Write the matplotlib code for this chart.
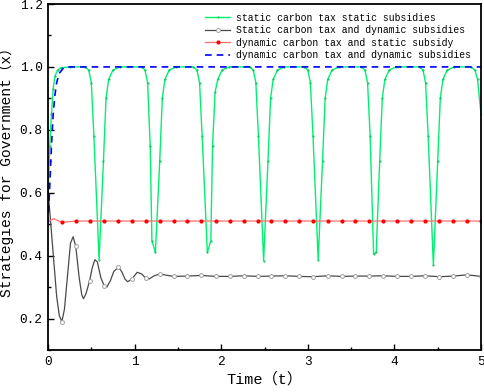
import matplotlib
matplotlib.use("Agg")
import matplotlib.pyplot as plt
from matplotlib.ticker import MultipleLocator

plt.rcParams['font.family'] = ['Liberation Mono', 'Noto Sans CJK SC', 'DejaVu Sans']

#marker times shared by the grey and red series
mark_t = [0.16, 0.32, 0.48, 0.65, 0.81, 0.97, 1.13, 1.29, 1.45, 1.61, 1.77, 1.94,
          2.10, 2.26, 2.42, 2.58, 2.74, 2.90, 3.06, 3.23, 3.39, 3.55, 3.71, 3.87,
          4.03, 4.19, 4.35, 4.52, 4.68, 4.84, 5.00]

#static carbon tax static subsidies (green)
green_t = [0.0, 0.02, 0.04, 0.06, 0.08, 0.11, 0.15, 0.25,
           0.43, 0.47, 0.50, 0.53, 0.59, 0.64, 0.67, 0.70, 0.75, 0.83,
           1.08, 1.12, 1.15, 1.18, 1.20, 1.24, 1.29, 1.32, 1.35, 1.40, 1.48,
           1.68, 1.72, 1.75, 1.78, 1.84, 1.88, 1.90, 1.93, 1.96, 2.01, 2.09,
           2.33, 2.37, 2.40, 2.43, 2.49, 2.54, 2.57, 2.60, 2.65, 2.73,
           2.96, 3.00, 3.03, 3.06, 3.12, 3.17, 3.20, 3.23, 3.28, 3.36,
           3.62, 3.66, 3.69, 3.72, 3.76, 3.79, 3.83, 3.86, 3.89, 3.94, 4.02,
           4.29, 4.33, 4.36, 4.39, 4.45, 4.50, 4.53, 4.56, 4.61, 4.69,
           4.88, 4.93, 4.96, 5.00]
green_v = [0.59, 0.75, 0.85, 0.93, 0.97, 0.99, 0.997, 1.0,
           1.0, 0.99, 0.95, 0.78, 0.387, 0.70, 0.90, 0.96, 0.99, 1.0,
           1.0, 0.99, 0.95, 0.75, 0.447, 0.41, 0.70, 0.90, 0.96, 0.99, 1.0,
           1.0, 0.99, 0.95, 0.78, 0.41, 0.447, 0.75, 0.92, 0.96, 0.99, 1.0,
           1.0, 0.99, 0.95, 0.78, 0.384, 0.70, 0.90, 0.96, 0.99, 1.0,
           1.0, 0.99, 0.95, 0.78, 0.387, 0.70, 0.90, 0.96, 0.99, 1.0,
           1.0, 0.99, 0.95, 0.78, 0.405, 0.41, 0.70, 0.90, 0.96, 0.99, 1.0,
           1.0, 0.99, 0.95, 0.78, 0.37, 0.70, 0.90, 0.96, 0.99, 1.0,
           1.0, 0.99, 0.96, 0.85]

#Static carbon tax and dynamic subsidies (grey)
gray_t = [0.0, 0.05, 0.10, 0.13, 0.16, 0.19, 0.23, 0.26, 0.29, 0.32, 0.36, 0.39,
          0.41, 0.44, 0.48, 0.51, 0.54, 0.57, 0.61, 0.65, 0.68, 0.72, 0.76, 0.81,
          0.85, 0.89, 0.92, 0.97, 1.03, 1.08, 1.13, 1.17, 1.22, 1.29, 1.36, 1.45,
          1.61, 1.77, 1.94, 2.10, 2.26, 2.42, 2.58, 2.74, 2.90, 3.06, 3.23, 3.39,
          3.55, 3.71, 3.87, 4.03, 4.19, 4.35, 4.52, 4.68, 4.84, 5.00]
gray_v = [0.61, 0.44, 0.27, 0.21, 0.19, 0.23, 0.35, 0.44, 0.46, 0.43, 0.33, 0.275,
          0.263, 0.28, 0.32, 0.36, 0.387, 0.38, 0.33, 0.303, 0.30, 0.32, 0.35, 0.363,
          0.35, 0.325, 0.317, 0.326, 0.347, 0.342, 0.328, 0.326, 0.335, 0.342, 0.338, 0.334,
          0.335, 0.337, 0.334, 0.334, 0.336, 0.334, 0.335, 0.336, 0.334, 0.333, 0.336, 0.334,
          0.335, 0.335, 0.336, 0.334, 0.334, 0.336, 0.333, 0.335, 0.339, 0.334]

#dynamic carbon tax and static subsidy (red)
red_t = [0.0, 0.03, 0.07, 0.11] + mark_t
red_v = [0.505, 0.513, 0.517, 0.512, 0.506] + [0.51] * (len(mark_t) - 1)

#dynamic carbon tax and dynamic subsidies (blue)
blue_t = [0.0, 0.02, 0.04, 0.06, 0.08, 0.10, 0.13, 0.18, 0.25, 5.0]
blue_v = [0.50, 0.62, 0.75, 0.85, 0.91, 0.95, 0.98, 0.997, 1.0, 1.0]

labels = ["static carbon tax static subsidies",
          "Static carbon tax and dynamic subsidies",
          "dynamic carbon tax and static subsidy",
          "dynamic carbon tax and dynamic subsidies"]

fig = plt.figure(figsize=(4.84, 3.92), dpi=100)
ax = fig.add_axes([48/484, 1 - 350/392, 433/484, 346/392])

ax.plot(green_t, green_v, color='#00f070', lw=1.0, marker='.', ms=1.0,
        mfc='#00c050', mec='#00c050', label=labels[0])
gray_marks = [i for i, t in enumerate(gray_t) if t in mark_t]
ax.plot(gray_t, gray_v, color='#4a4a4a', lw=0.9, marker='o', ms=2.8,
        mfc='white', mec='#a0a0a0', mew=0.7, markevery=gray_marks, label=labels[1])
red_marks = [i for i, t in enumerate(red_t) if t in mark_t]
ax.plot(red_t, red_v, color='#ff7070', lw=0.9, marker='o', ms=2.0,
        mfc='red', mec='red', markevery=red_marks, label=labels[2])
ax.plot(blue_t, blue_v, color='#0000ff', lw=1.2, dashes=(4, 3), label=labels[3])

ax.set_xlim(0, 5)
ax.set_ylim(0.1, 1.2)
ax.xaxis.set_major_locator(MultipleLocator(1))
ax.xaxis.set_minor_locator(MultipleLocator(0.5))
ax.yaxis.set_minor_locator(MultipleLocator(0.1))
ax.set_yticks([0.2, 0.4, 0.6, 0.8, 1.0, 1.2])
ax.set_yticklabels(["0.2", "0.4", "0.6", "0.8", "1.0", "1.2"])
ax.tick_params(which='both', direction='in', width=1.0, labelsize=9.2)
ax.tick_params(which='major', length=4, pad=4)
ax.tick_params(which='minor', length=2.5)
for s in ax.spines.values():
    s.set_linewidth(1.3)

ax.set_xlabel("Time（t）", fontsize=11, labelpad=3)
ax.set_ylabel("Strategies for Government（x）", fontsize=10.5)
ax.yaxis.set_label_coords(-34/433, 0.525)

ax.legend(loc='upper left', bbox_to_anchor=(200/484, 1 - 8/392),
          bbox_transform=fig.transFigure, frameon=False, fontsize=7,
          borderpad=0, labelspacing=0.25, handlelength=2.6, handletextpad=0.6)

fig.savefig("out.png", dpi=100)
